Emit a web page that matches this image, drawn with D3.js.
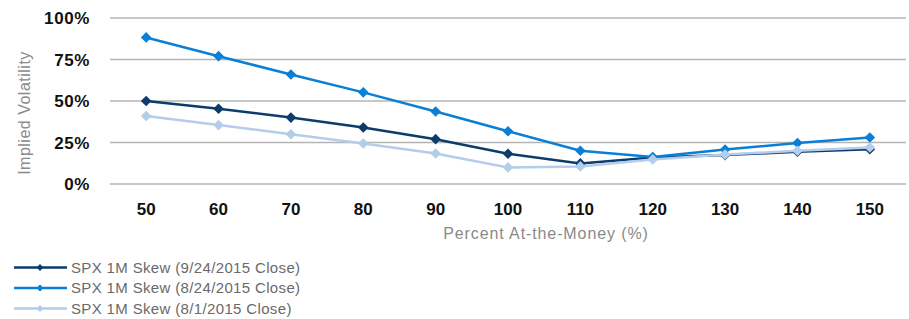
<!DOCTYPE html>
<html>
<head>
<meta charset="utf-8">
<script src="https://cdn.jsdelivr.net/npm/d3@7"></script>
<style>
  body { margin: 0; background: #fff; }
  svg { display: block; font-family: "Liberation Sans", Arial, sans-serif; }
  .tick-y, .tick-x { font-weight: bold; fill: #111; }
  .title { fill: #8a8a8a; }
  .legend text { fill: #6a6a6a; }
</style>
</head>
<body>
<svg id="chart" width="909" height="319"></svg>
<script>
  // strikes, percent at-the-money
  var strikes = [50, 60, 70, 80, 90, 100, 110, 120, 130, 140, 150];
  var yTicks = [0, 25, 50, 75, 100];

  // implied volatility (%)
  var skew0924 = [50, 45.3, 40, 34, 27, 18.2, 12.4, 16, 17.4, 19.4, 21];
  var skew0824 = [88.3, 77, 66, 55.2, 43.7, 31.8, 20, 16.3, 20.8, 24.7, 28];
  var skew0801 = [41, 35.5, 30, 24.4, 18.4, 10, 10.6, 14.8, 17.7, 20, 22];

  var seriesNames = ["SPX 1M Skew (9/24/2015 Close)", "SPX 1M Skew (8/24/2015 Close)", "SPX 1M Skew (8/1/2015 Close)"];
  var seriesColors = ["#0c3c6b", "#0a7fd6", "#b3cdea"];
  var seriesValues = [skew0924, skew0824, skew0801];

  var svg = d3.select("#chart");
  var plotLeft = 110, plotRight = 906, plotTop = 18, plotBottom = 184;

  var x = d3.scalePoint()
    .domain(strikes)
    .range([plotLeft, plotRight])
    .padding(0.5);
  var y = d3.scaleLinear()
    .domain([0, 100])
    .range([plotBottom, plotTop]);

  // gridlines
  svg.append("g").selectAll("line")
    .data(yTicks)
    .enter().append("line")
    .attr("x1", plotLeft).attr("x2", plotRight)
    .attr("y1", function(d) { return y(d); })
    .attr("y2", function(d) { return y(d); })
    .attr("stroke", "#b5b5b5")
    .attr("stroke-width", 1.5);

  // y tick labels
  svg.append("g").selectAll("text")
    .data(yTicks)
    .enter().append("text")
    .attr("class", "tick-y")
    .attr("x", 90)
    .attr("y", function(d) { return y(d) + 6; })
    .attr("text-anchor", "end")
    .style("font-size", "17px")
    .style("letter-spacing", "0.6px")
    .text(function(d) { return d + "%"; });

  // x tick labels
  svg.append("g").selectAll("text")
    .data(strikes)
    .enter().append("text")
    .attr("class", "tick-x")
    .attr("x", function(d) { return x(d); })
    .attr("y", 215)
    .attr("text-anchor", "middle")
    .style("font-size", "17px")
    .text(function(d) { return d; });

  svg.append("text")
    .attr("class", "title")
    .attr("transform", "translate(30,113) rotate(-90)")
    .attr("text-anchor", "middle")
    .style("font-size", "16px")
    .style("letter-spacing", "0.5px")
    .text("Implied Volatility");

  svg.append("text")
    .attr("class", "title")
    .attr("x", 546)
    .attr("y", 239)
    .attr("text-anchor", "middle")
    .style("font-size", "16px")
    .style("letter-spacing", "0.9px")
    .text("Percent At-the-Money (%)");

  var line = d3.line()
    .x(function(d, i) { return x(strikes[i]); })
    .y(function(d) { return y(d); });

  var diamond = d3.symbol().type(d3.symbolDiamond2).size(72);

  // series in legend order, later ones on top
  seriesValues.forEach(function(vals, k) {
    var g = svg.append("g");
    g.append("path")
      .datum(vals)
      .attr("d", line)
      .attr("fill", "none")
      .attr("stroke", seriesColors[k])
      .attr("stroke-width", 2.5);
    g.selectAll("path.dot")
      .data(vals)
      .enter().append("path")
      .attr("class", "dot")
      .attr("d", diamond)
      .attr("transform", function(d, i) { return "translate(" + x(strikes[i]) + "," + y(d) + ")"; })
      .attr("fill", seriesColors[k]);
  });

  // legend
  var legend = svg.append("g").attr("class", "legend");
  seriesNames.forEach(function(name, k) {
    var ly = 267.5 + k * 20.5;
    legend.append("line")
      .attr("x1", 14).attr("x2", 67)
      .attr("y1", ly).attr("y2", ly)
      .attr("stroke", seriesColors[k])
      .attr("stroke-width", 2.5);
    legend.append("path")
      .attr("d", d3.symbol().type(d3.symbolDiamond2).size(30))
      .attr("transform", "translate(40," + ly + ")")
      .attr("fill", seriesColors[k]);
    legend.append("text")
      .attr("x", 71)
      .attr("y", ly + 5)
      .style("font-size", "15px")
      .style("letter-spacing", "0.35px")
      .text(name);
  });
</script>
</body>
</html>
